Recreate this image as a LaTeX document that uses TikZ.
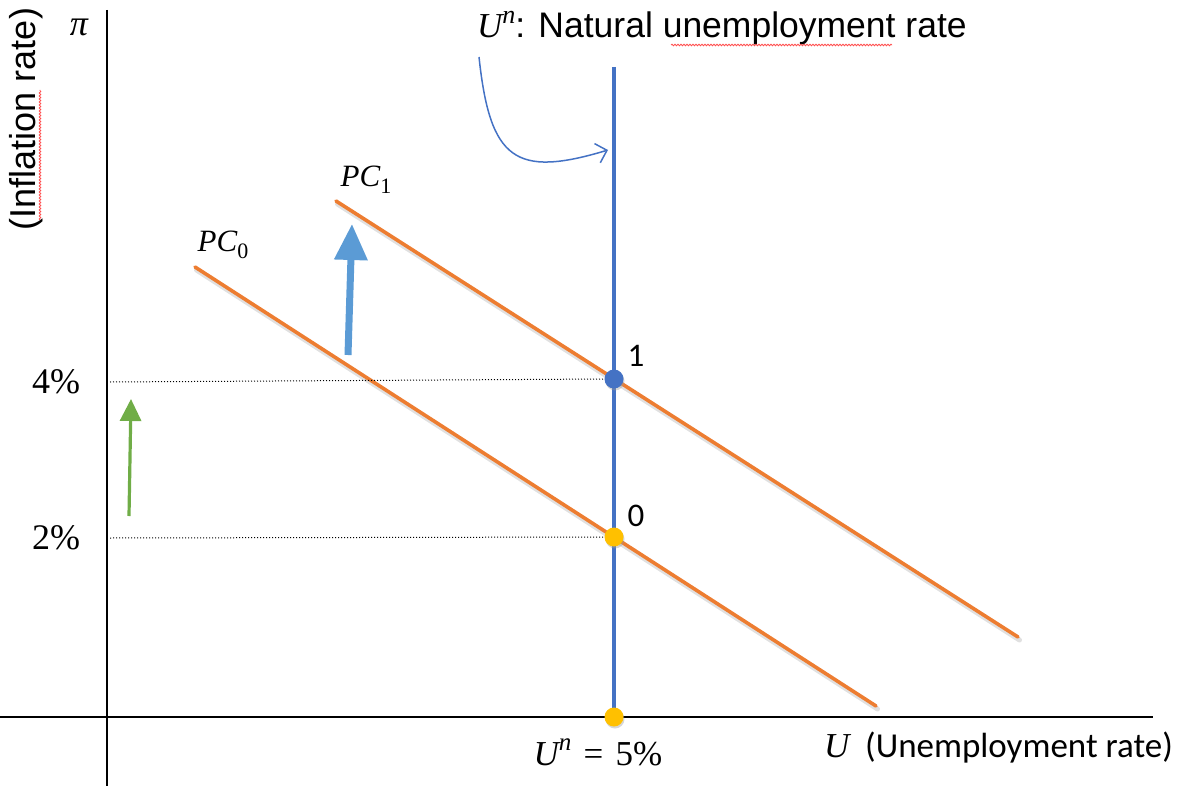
\documentclass[tikz,border=0pt]{standalone}
\usepackage{fontspec}
\newfontfamily\arialf{Liberation Sans}
\newfontfamily\calib{Carlito}
\newfontfamily\lserif{Liberation Serif}
\newcommand\mi[1]{{\lserif\itshape #1}}
\newcommand\supn[1]{\raisebox{0.42em}{\lserif\itshape\fontsize{#1}{#1}\selectfont n}}
\newcommand\subd[2]{\raisebox{-0.22em}{\lserif\fontsize{#1}{#1}\selectfont #2}}
\usetikzlibrary{arrows.meta,decorations.pathmorphing}
\definecolor{pcorange}{HTML}{ED7D31}
\definecolor{unblue}{HTML}{4472C4}
\definecolor{shiftblue}{HTML}{5B9BD5}
\definecolor{gold}{HTML}{FFC000}
\definecolor{grn}{HTML}{70AD47}
\tikzset{
  axis/.style={black, line width=1.3pt},
  pcline/.style={pcorange, line width=3.6pt, line cap=round},
  pcshadow/.style={black!35, opacity=0.35, line width=5pt, line cap=round},
  guide/.style={black, line width=1pt, dotted},
  dotpt/.style={circle, inner sep=0pt, minimum size=19pt},
  dotshadow/.style={circle, inner sep=0pt, minimum size=19pt, fill=black!40, opacity=0.4},
  spell/.style={red!70, line width=0.8pt, decorate, decoration={snake, amplitude=0.8pt, segment length=3pt}},
  lbl/.style={inner sep=0pt}
}
\begin{document}
\begin{tikzpicture}[x=1pt,y=-1pt]
\useasboundingbox (0,0) rectangle (1182,786);
% axes
\coordinate (ytop) at (107,10);
\coordinate (ybot) at (107,786);
\coordinate (xl) at (0,717);
\coordinate (xr) at (1153,717);
\draw[axis] (ytop) -- (ybot);
\draw[axis] (xl) -- (xr);
% natural rate line
\coordinate (untop) at (614,67);
\coordinate (unbot) at (614,717);
\draw[unblue, line width=3.4pt] (untop) -- (unbot);
% guides
\coordinate (g4) at (110,382);
\coordinate (g2) at (110,538);
% Phillips curves
\coordinate (pc0a) at (195,267);
\coordinate (pc0b) at (876,706);
\coordinate (pc1a) at (336,201);
\coordinate (pc1b) at (1018,637);
\draw[pcshadow] ([shift={(1.5,3)}]pc0a) -- ([shift={(1.5,3)}]pc0b);
\draw[pcshadow] ([shift={(1.5,3)}]pc1a) -- ([shift={(1.5,3)}]pc1b);
\draw[pcline] (pc0a) -- (pc0b);
\draw[pcline] (pc1a) -- (pc1b);
% dots
\node[dotshadow] at (615,381) {};
\node[dotshadow] at (615,539) {};
\node[dotshadow] at (615,719) {};
\node[dotpt, fill=unblue] (p1) at (614,379) {};
\node[dotpt, fill=gold] (p0) at (614,537) {};
\node[dotpt, fill=gold] (pU) at (614,717) {};
\draw[guide] (g4) -- (p1.west);
\draw[guide] (g2) -- (p0.west);
% arrows
\coordinate (ba) at (348,355);
\coordinate (bb) at (352,224);
\draw[shiftblue, line width=7pt, -{Triangle[length=36pt,width=32pt]}] (ba) -- (bb);
\coordinate (ga) at (129,516);
\coordinate (gb) at (131,399);
\draw[grn, line width=3.2pt, -{Triangle[length=22pt,width=21pt]}] (ga) -- (gb);
\coordinate (ca) at (479,57);
\coordinate (cb) at (608,150);
\draw[unblue, line width=1.5pt, -{Straight Barb[length=10pt,width=20pt,line width=1.5pt]}] (ca) .. controls (490,160) and (515,178) .. (cb);
% labels
\node[lbl] (pi) at (79,27) {\lserif\itshape\fontsize{36}{40}\selectfont π};
\node[lbl, rotate=90] (infl) at (26,119) {\arialf\fontsize{36}{42}\selectfont(Inflation rate)};
\node[lbl] (l4) at (56,382) {\lserif\fontsize{36}{40}\selectfont 4\%};
\node[lbl] (l2) at (56,538) {\lserif\fontsize{36}{40}\selectfont 2\%};
\node[lbl] (n1) at (636,356) {\calib\fontsize{33}{38}\selectfont 1};
\node[lbl] (n0) at (636,516) {\calib\fontsize{33}{38}\selectfont 0};
\node[lbl] (pc1) at (366,180) {\fontsize{31}{36}\selectfont\mi{PC}\subd{22}{1}};
\node[lbl] (pc0) at (223,245) {\fontsize{31}{36}\selectfont\mi{PC}\subd{22}{0}};
\node[lbl, anchor=west] (title) at (477,28) {\fontsize{35}{40}\selectfont\mi{U}\supn{26}\arialf\fontsize{35.5}{40}\selectfont: Natural unemployment rate};
\node[lbl] (un5) at (598,752) {\lserif\fontsize{35}{40}\selectfont\mi{U}\supn{25}\hspace{0.35em}=\hspace{0.35em}5\%};
\node[lbl, anchor=west] (uax) at (824,748) {\fontsize{35}{40}\selectfont\mi{U}\hspace{0.45em}\calib\fontsize{35}{40}\selectfont(Unemployment rate)};
% spell-check marks
\coordinate (s1a) at (671,45);
\coordinate (s1b) at (892,45);
\draw[spell] (s1a) -- (s1b);
\coordinate (s2a) at (40,220);
\coordinate (s2b) at (40,90);
\draw[spell] (s2a) -- (s2b);
\end{tikzpicture}
\end{document}
